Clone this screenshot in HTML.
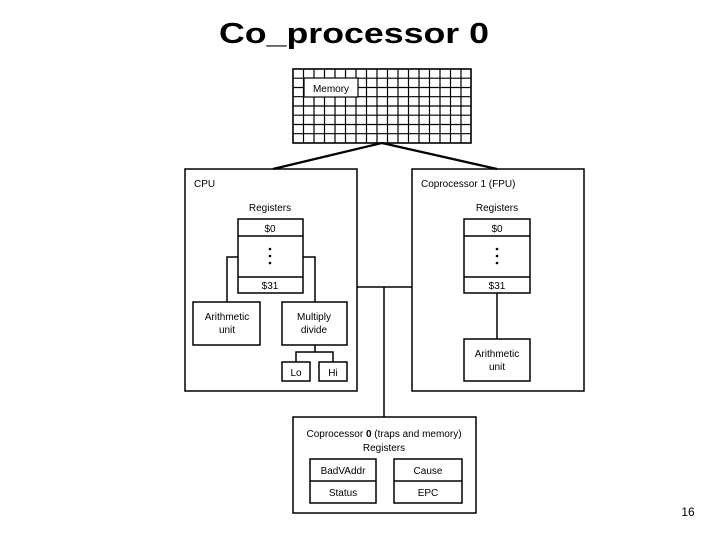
<!DOCTYPE html>
<html><head><meta charset="utf-8"><style>
html,body{margin:0;padding:0;background:#fff;width:720px;height:540px;overflow:hidden}
svg text{font-family:"Liberation Sans",Arial,sans-serif;fill:#000}
</style></head><body>
<svg width="720" height="540" viewBox="0 0 720 540" xmlns="http://www.w3.org/2000/svg">
<text x="354" y="43" text-anchor="middle" font-size="29" font-weight="bold" textLength="270" lengthAdjust="spacingAndGlyphs">Co_processor 0</text>

<!-- Memory grid -->
<g stroke="#000" stroke-width="1.2" fill="none">
<rect x="293" y="69" width="178" height="74" fill="#fff" stroke-width="1.6"/>
<path d="M303.5 69V143M314 69V143M324.5 69V143M335 69V143M345.5 69V143M356 69V143M366.5 69V143M377 69V143M387.5 69V143M398 69V143M408.5 69V143M419 69V143M429.5 69V143M440 69V143M450.5 69V143M461 69V143"/>
<path d="M293 78.2H471M293 87.5H471M293 96.7H471M293 106H471M293 115.2H471M293 124.5H471M293 133.7H471"/>
</g>
<rect x="304" y="78" width="54" height="19" fill="#fff" stroke="#000" stroke-width="1.2"/>
<text x="331" y="92" text-anchor="middle" font-size="10">Memory</text>

<g stroke="#000" fill="none" stroke-width="1.5">
<path d="M382 143L273 169M382 143L497 169" stroke-width="2.2"/>
<rect x="185" y="169" width="172" height="222"/>
<rect x="412" y="169" width="172" height="222"/>
<rect x="293" y="417" width="183" height="96"/>
<path d="M357 287H412M384 287V417"/>
<!-- CPU regs -->
<rect x="238" y="219" width="65" height="74"/>
<path d="M238 236H303M238 277H303"/>
<path d="M238 257H227V302M303 257H315V302"/>
<rect x="193" y="302" width="67" height="43"/>
<rect x="282" y="302" width="65" height="43"/>
<path d="M315 345V352M296 362V352H333V362"/>
<rect x="282" y="362" width="28" height="19"/>
<rect x="319" y="362" width="28" height="19"/>
<!-- FPU -->
<rect x="464" y="219" width="66" height="74"/>
<path d="M464 236H530M464 277H530M497 293V339"/>
<rect x="464" y="339" width="66" height="42"/>
<!-- CP0 -->
<rect x="310" y="459" width="66" height="44"/>
<path d="M310 481H376M394 481H462"/>
<rect x="394" y="459" width="68" height="44"/>
</g>
<g fill="#000">
<circle cx="270" cy="249" r="1.3"/><circle cx="270" cy="256" r="1.3"/><circle cx="270" cy="263" r="1.3"/>
<circle cx="497" cy="249" r="1.3"/><circle cx="497" cy="256" r="1.3"/><circle cx="497" cy="263" r="1.3"/>
</g>
<g font-size="10">
<text x="194" y="187">CPU</text>
<text x="270" y="211" text-anchor="middle">Registers</text>
<text x="270" y="232" text-anchor="middle">$0</text>
<text x="270" y="289" text-anchor="middle">$31</text>
<text x="227" y="320" text-anchor="middle">Arithmetic</text>
<text x="227" y="333" text-anchor="middle">unit</text>
<text x="314" y="320" text-anchor="middle">Multiply</text>
<text x="314" y="333" text-anchor="middle">divide</text>
<text x="296" y="376" text-anchor="middle">Lo</text>
<text x="333" y="376" text-anchor="middle">Hi</text>
<text x="421" y="187">Coprocessor 1 (FPU)</text>
<text x="497" y="211" text-anchor="middle">Registers</text>
<text x="497" y="232" text-anchor="middle">$0</text>
<text x="497" y="289" text-anchor="middle">$31</text>
<text x="497" y="357" text-anchor="middle">Arithmetic</text>
<text x="497" y="370" text-anchor="middle">unit</text>
<text x="384" y="437" text-anchor="middle">Coprocessor <tspan font-weight="bold">0</tspan> (traps and memory)</text>
<text x="384" y="451" text-anchor="middle">Registers</text>
<text x="343" y="474" text-anchor="middle">BadVAddr</text>
<text x="343" y="496" text-anchor="middle">Status</text>
<text x="428" y="474" text-anchor="middle">Cause</text>
<text x="428" y="496" text-anchor="middle">EPC</text>
</g>
<text x="688" y="516" text-anchor="middle" font-size="12">16</text>
</svg>
</body></html>
